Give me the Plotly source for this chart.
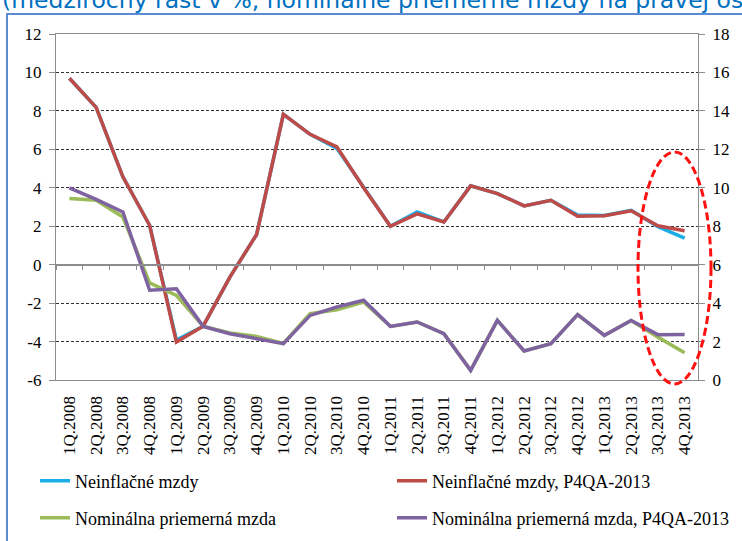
import plotly.graph_objects as go

quarters = ["1Q.2008", "2Q.2008", "3Q.2008", "4Q.2008",
            "1Q.2009", "2Q.2009", "3Q.2009", "4Q.2009",
            "1Q.2010", "2Q.2010", "3Q.2010", "4Q.2010",
            "1Q.2011", "2Q.2011", "3Q.2011", "4Q.2011",
            "1Q.2012", "2Q.2012", "3Q.2012", "4Q.2012",
            "1Q.2013", "2Q.2013", "3Q.2013", "4Q.2013"]

# left axis (medziročný rast v %)
neinflacne_mzdy = [9.7, 8.18, 4.57, 2.05, -3.92, -3.2, -0.65, 1.57,
                   7.82, 6.78, 6.05, 4.0, 2.0, 2.74, 2.22, 4.1,
                   3.7, 3.06, 3.35, 2.58, 2.56, 2.83, 1.98, 1.38]
neinflacne_mzdy_p4qa = [9.7, 8.18, 4.57, 2.05, -4.02, -3.2, -0.65, 1.57,
                        7.82, 6.78, 6.13, 4.0, 2.0, 2.64, 2.22, 4.1,
                        3.7, 3.06, 3.35, 2.52, 2.54, 2.8, 2.02, 1.76]
# right axis (nominálne priemerné mzdy)
nominalna_mzda = [9.44, 9.35, 8.48, 5.05, 4.4, 2.8, 2.45, 2.27,
                  1.9, 3.45, 3.65, 4.06, 2.79, 3.02, 2.41, 0.5,
                  3.1, 1.51, 1.89, 3.4, 2.32, 3.1, 2.23, 1.42]
nominalna_mzda_p4qa = [10.0, 9.4, 8.74, 4.67, 4.75, 2.79, 2.41, 2.15,
                       1.89, 3.36, 3.8, 4.15, 2.79, 3.02, 2.41, 0.5,
                       3.1, 1.51, 1.89, 3.4, 2.32, 3.1, 2.36, 2.37]

left_ticks = [-6, -4, -2, 0, 2, 4, 6, 8, 10, 12]
left_tick_text = ["-6", "-4", "-2", "0", "2", "4", "6", "8", "10", "12"]
right_ticks = [0, 2, 4, 6, 8, 10, 12, 14, 16, 18]
right_tick_text = ["0", "2", "4", "6", "8", "10", "12", "14", "16", "18"]

title_text = "(medziročný rast v %, nominálne priemerné mzdy na pravej osi)"

names = ["Neinflačné mzdy", "Neinflačné mzdy, P4QA-2013",
         "Nominálna priemerná mzda", "Nominálna priemerná mzda, P4QA-2013"]
colors = ["#1AADE6", "#BE4B48", "#9BBB59", "#7F63A1"]
legend_ids = ["legend", "legend2", "legend3", "legend4"]

SERIF = "Liberation Serif, Times New Roman, serif"
AXIS_GRAY = "#8C8C8C"

fig = go.Figure()
series = [neinflacne_mzdy, neinflacne_mzdy_p4qa, nominalna_mzda, nominalna_mzda_p4qa]
axes = [("x", "y"), ("x", "y"), ("x2", "y2"), ("x2", "y2")]
for i in range(4):
    fig.add_trace(go.Scatter(x=quarters, y=series[i], name=names[i], mode="lines",
                             line=dict(color=colors[i], width=3.5),
                             xaxis=axes[i][0], yaxis=axes[i][1], legend=legend_ids[i]))

# legend placement (pixel -> paper)
PL, PT, PW, PH = 56, 34, 642, 346
def px_x(p):
    return (p - PL) / PW
def px_y(p):
    return (PT + PH - p) / PH

leg_font = dict(family=SERIF, size=18, color="black")
leg_pos = [(35, 481), (392, 481), (35, 518), (392, 518)]
legend_layout = {}
for lid, (lx, ly) in zip(legend_ids, leg_pos):
    legend_layout[lid] = dict(orientation="h", x=px_x(lx), xanchor="left",
                              y=px_y(ly), yanchor="middle", font=leg_font,
                              bgcolor="rgba(0,0,0,0)", borderwidth=0)

fig.update_layout(
    width=742, height=541,
    margin=dict(l=PL, r=742 - PL - PW, t=PT, b=541 - PT - PH, autoexpand=False),
    paper_bgcolor="white", plot_bgcolor="white",
    font=dict(family=SERIF, size=17, color="black"),
    xaxis=dict(type="category", categoryorder="array", categoryarray=quarters,
               range=[-0.5, 23.5], showgrid=False, zeroline=False,
               showline=True, mirror=True, linecolor=AXIS_GRAY, linewidth=1.3,
               ticks="", tickangle=-90, ticklabelstandoff=8,
               tickfont=dict(family=SERIF, size=17, color="black")),
    xaxis2=dict(type="category", categoryorder="array", categoryarray=quarters,
                range=[-0.5, 23.5], overlaying="x", anchor="free", position=1/3,
                showgrid=False, zeroline=False, showline=True, linecolor=AXIS_GRAY,
                linewidth=1.5, ticks="outside", tickson="boundaries", ticklen=5,
                tickcolor=AXIS_GRAY, tickwidth=1.3, showticklabels=False),
    yaxis=dict(range=[-6, 12], tickvals=left_ticks, ticktext=left_tick_text,
               showgrid=True, gridcolor="#333333", gridwidth=1, griddash="3px,2px",
               zeroline=False, showline=True, linecolor=AXIS_GRAY, linewidth=1.3,
               ticks="outside", ticklen=6, tickcolor=AXIS_GRAY, tickwidth=1.3,
               ticklabelstandoff=4, tickfont=dict(family=SERIF, size=17, color="black")),
    yaxis2=dict(range=[0, 18], tickvals=right_ticks, ticktext=right_tick_text,
                overlaying="y", side="right", anchor="x", showgrid=False, zeroline=False,
                showline=True, linecolor=AXIS_GRAY, linewidth=1.3,
                ticks="outside", ticklen=6, tickcolor=AXIS_GRAY, tickwidth=1.3,
                ticklabelstandoff=4, tickfont=dict(family=SERIF, size=17, color="black")),
    showlegend=True,
    **legend_layout,
)

# blue frame around the chart box
fig.add_shape(type="rect", xref="paper", yref="paper",
              x0=px_x(7), x1=1.3, y0=-0.8, y1=px_y(14),
              line=dict(color="#5B8BD0", width=2), fillcolor="rgba(0,0,0,0)", layer="below")

# dashed red ellipse highlighting the last two quarters
fig.add_shape(type="circle", xref="paper", yref="paper",
              x0=px_x(638), x1=px_x(711), y0=px_y(384), y1=px_y(152),
              line=dict(color="#FF1010", width=3, dash="8px,4px"),
              fillcolor="rgba(0,0,0,0)", layer="above")

fig.add_annotation(text=title_text, xref="paper", yref="paper",
                   x=px_x(0), xanchor="left", y=px_y(0), yanchor="middle",
                   showarrow=False, font=dict(family="DejaVu Sans", size=23.5, color="#0070C0"))

fig.write_html("out.html", config={"displayModeBar": False},
               post_script="document.body.style.margin='0';document.body.style.overflow='hidden';")
